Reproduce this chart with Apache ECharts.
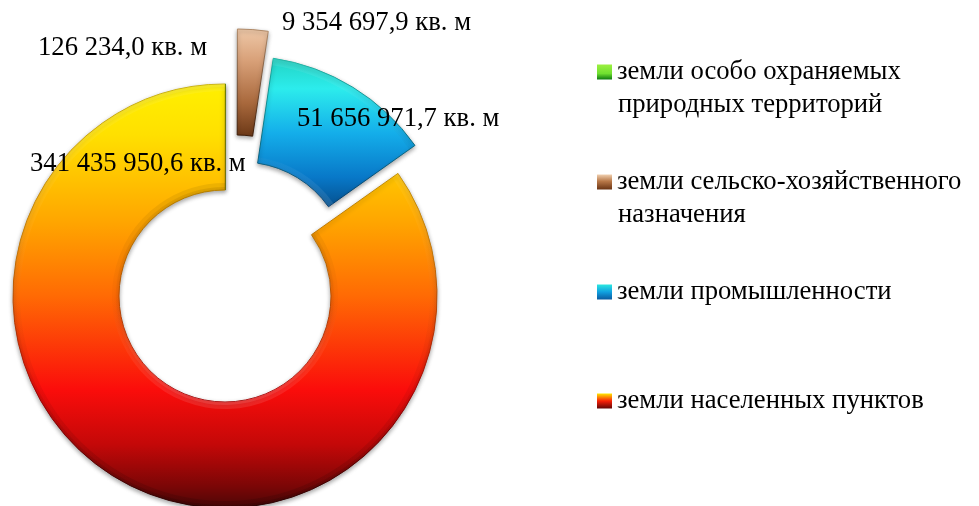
<!DOCTYPE html>
<html>
<head>
<meta charset="utf-8">
<style>html,body{margin:0;padding:0;background:#fff}#main{width:979px;height:506px}</style>
<script src="https://cdn.jsdelivr.net/npm/echarts@6/dist/echarts.min.js"></script>
</head>
<body>
<div id="main"></div>
<script>
var categories = ['земли особо охраняемых\nприродных территорий', 'земли сельско-хозяйственного\nназначения', 'земли промышленности', 'земли населенных пунктов'];
var values = [126234.0, 9354697.9, 51656971.7, 341435950.6];
var valueLabels = ['126 234,0', '9 354 697,9', '51 656 971,7', '341 435 950,6'];
var labelPlaces = [[38, 48], [282, 23], [297, 119], [30, 164]];
var legendTops = [55, 165, 275, 384];

var myChart = echarts.init(document.getElementById('main'));
var serif = '"Liberation Serif","Times New Roman",serif';

function grad(y0, y1, stops) {
    var list = [];
    for (var i = 0; i < stops.length; i++) list.push({offset: stops[i][0], color: stops[i][1]});
    return new echarts.graphic.LinearGradient(0, y0, 0, y1, list, true);
}
var yellowStops = [[0, '#fff000'], [0.12, '#ffe000'], [0.33, '#ffa400'], [0.5, '#ff6a04'], [0.72, '#fb0d0b'], [0.85, '#c40808'], [0.95, '#7a0606'], [1, '#4c0606']];
var blueStops = [[0, '#22d4c4'], [0.2, '#2cecec'], [0.5, '#14aeea'], [0.8, '#0878c8'], [1, '#05508e']];
var brownStops = [[0, '#eec8a8'], [0.3, '#d8a078'], [0.7, '#a8683c'], [1, '#6e3a18']];
var greenStops = [[0, '#108010'], [0.5, '#a0f040'], [1, '#48c020']];

var fills = [
    grad(84, 508, greenStops),
    grad(29, 135, brownStops),
    grad(59, 207, blueStops),
    grad(84, 508, yellowStops)
];
var rims = [
    '#0a600a',
    grad(29, 135, [[0, '#b08a68'], [1, '#3e1c08']]),
    grad(59, 207, [[0, '#18b0a0'], [1, '#033c70']]),
    grad(84, 508, [[0, '#c8b000'], [0.4, '#c07000'], [0.72, '#b00808'], [1, '#300404']])
];

// each pie shows only its own slices, the rest stay see-through
function ring(center, shown) {
    var data = [];
    for (var i = 0; i < values.length; i++) {
        var on = shown.indexOf(i) >= 0;
        data.push({
            name: categories[i],
            value: values[i],
            label: {show: on},
            itemStyle: on ? {
                color: fills[i], borderColor: rims[i], borderWidth: 1,
                shadowBlur: 4, shadowColor: 'rgba(0,0,0,0.35)', shadowOffsetY: 2
            } : {color: 'rgba(0,0,0,0)', borderWidth: 0}
        });
    }
    return {
        type: 'pie',
        center: center,
        radius: [106, 212],
        startAngle: 90,
        animation: false,
        silent: true,
        data: data,
        label: {
            position: 'outside',
            color: '#000',
            overflow: 'none',
            fontFamily: serif,
            fontSize: 26.67,
            formatter: function (p) { return valueLabels[p.dataIndex] + ' кв. м'; }
        },
        labelLine: {show: false},
        labelLayout: function (p) {
            return {x: labelPlaces[p.dataIndex][0], y: labelPlaces[p.dataIndex][1], align: 'left', verticalAlign: 'middle'};
        }
    };
}

// thin band along a curved edge for the bevel look
function bevel(center, shown, radius, color) {
    var data = [];
    for (var i = 0; i < values.length; i++) {
        data.push({
            name: categories[i],
            value: values[i],
            itemStyle: {color: shown.indexOf(i) >= 0 ? color : 'rgba(0,0,0,0)', borderWidth: 0}
        });
    }
    return {
        type: 'pie',
        center: center,
        radius: radius,
        startAngle: 90,
        animation: false,
        silent: true,
        data: data,
        label: {show: false},
        labelLine: {show: false}
    };
}
function outerTone(y0, y1) {
    return grad(y0, y1, [[0, 'rgba(255,255,255,0.08)'], [0.35, 'rgba(255,255,255,0.03)'], [0.6, 'rgba(0,0,0,0.03)'], [1, 'rgba(0,0,0,0.12)']]);
}
function innerTone(y0, y1) {
    return grad(y0, y1, [[0, 'rgba(0,0,0,0.07)'], [0.5, 'rgba(0,0,0,0.02)'], [0.75, 'rgba(255,255,255,0.05)'], [1, 'rgba(255,255,255,0.1)']]);
}

var legendFills = [
    new echarts.graphic.LinearGradient(0, 0, 0, 1, [{offset: 0, color: '#9cf040'}, {offset: 0.6, color: '#70e030'}, {offset: 1, color: '#0c7a10'}]),
    new echarts.graphic.LinearGradient(0, 0, 0, 1, [{offset: 0, color: '#f0d0b0'}, {offset: 0.45, color: '#b87848'}, {offset: 1, color: '#6a3414'}]),
    new echarts.graphic.LinearGradient(0, 0, 0, 1, [{offset: 0, color: '#2ce8e0'}, {offset: 0.5, color: '#10a0e0'}, {offset: 1, color: '#0a5aa0'}]),
    new echarts.graphic.LinearGradient(0, 0, 0, 1, [{offset: 0, color: '#ffe800'}, {offset: 0.5, color: '#f82008'}, {offset: 1, color: '#600606'}])
];

var legends = [];
var extraLines = [];
for (var i = 0; i < categories.length; i++) {
    legends.push({
        left: 597,
        top: legendTops[i],
        orient: 'vertical',
        selectedMode: false,
        icon: 'rect',
        itemWidth: 15,
        itemHeight: 15,
        itemGap: 0,
        padding: 0,
        data: [{name: categories[i], itemStyle: {color: legendFills[i], borderWidth: 0}}],
        formatter: function (name) { return name.split('\n')[0]; },
        textStyle: {fontFamily: serif, fontSize: 26.67, color: '#000', lineHeight: 30, padding: [4, 0, 0, 0]}
    });
    var parts = categories[i].split('\n');
    if (parts.length > 1) {
        extraLines.push({
            type: 'text',
            left: 618,
            top: legendTops[i] + 36,
            silent: true,
            style: {text: parts[1], fontFamily: serif, fontSize: 26.67, fill: '#000'}
        });
    }
}

var mainAt = ['225', '296'], blueAt = ['242', '268'], brownAt = ['237', '241'];
var option = {
    backgroundColor: '#fff',
    animation: false,
    legend: legends,
    graphic: extraLines,
    series: [
        ring(mainAt, [0, 3]),
        bevel(mainAt, [3], [205, 212], outerTone(84, 508)),
        bevel(mainAt, [3], [209, 212], outerTone(84, 508)),
        bevel(mainAt, [3], [106, 113], innerTone(190, 402)),
        bevel(mainAt, [3], [106, 109], innerTone(190, 402)),
        ring(blueAt, [2]),
        bevel(blueAt, [2], [205, 212], outerTone(59, 207)),
        bevel(blueAt, [2], [106, 112], innerTone(59, 207)),
        ring(brownAt, [1])
    ]
};
myChart.setOption(option);
</script>
</body>
</html>
